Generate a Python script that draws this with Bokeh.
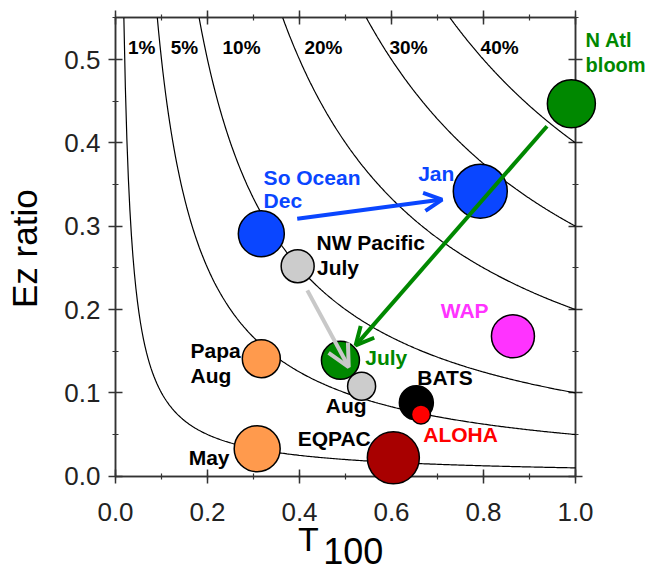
import numpy as np
from bokeh.plotting import figure
from bokeh.models import (Range1d, LinearAxis, SingleIntervalTicker, Label, Arrow, OpenHead,
                          ColumnDataSource)
from bokeh.embed import file_html
from bokeh.resources import INLINE

# ---- data -------------------------------------------------------------
# isolines: Ez ratio * T100 = percent of NPP
pct_values = [1, 5, 10, 20, 30, 40]
pct_labels = ["1%", "5%", "10%", "20%", "30%", "40%"]
pct_label_x = [0.057, 0.150, 0.274, 0.452, 0.637, 0.835]

x_tick_values = [0.0, 0.2, 0.4, 0.6, 0.8, 1.0]
y_tick_values = [0.0, 0.1, 0.2, 0.3, 0.4, 0.5]

site_names = ["N Atl bloom", "So Ocean Jan", "So Ocean Dec", "NW Pacific July",
              "N Atl July", "NW Pacific Aug", "Papa Aug", "Papa May",
              "EQPAC", "BATS", "ALOHA", "WAP"]
t100 = [0.991, 0.793, 0.317, 0.396, 0.489, 0.535, 0.317, 0.308, 0.604, 0.654, 0.664, 0.864]
ez_ratio = [0.447, 0.342, 0.291, 0.252, 0.139, 0.108, 0.141, 0.033, 0.022, 0.088, 0.074, 0.168]
bubble_size = [48, 54, 46, 33, 38, 28, 38, 46, 52, 34, 19, 43]
bubble_color = ["#008800", "#0a46ff", "#0a46ff", "#cccccc", "#008800", "#cccccc",
                "#ff9a4d", "#ff9a4d", "#a80000", "#000000", "#ff0000", "#ff33ff"]

# arrows (start -> end)
arrow_x0 = [0.395, 0.938, 0.417]
arrow_y0 = [0.309, 0.420, 0.223]
arrow_x1 = [0.710, 0.522, 0.507]
arrow_y1 = [0.332, 0.157, 0.131]
arrow_color = ["#0a46ff", "#008800", "#c8c8c8"]
arrow_head = [18, 18, 22]

# site text labels
label_text = ["So Ocean", "Dec", "Jan", "NW Pacific", "July", "Papa", "Aug", "May",
              "EQPAC", "Aug", "July", "BATS", "ALOHA", "WAP", "N Atl", "bloom"]
label_x = [0.322, 0.322, 0.658, 0.437, 0.438, 0.163, 0.163, 0.159,
           0.396, 0.457, 0.543, 0.656, 0.669, 0.707, 1.022, 1.022]
label_y = [0.359, 0.331, 0.363, 0.281, 0.251, 0.151, 0.121, 0.022,
           0.045, 0.085, 0.143, 0.119, 0.050, 0.199, 0.523, 0.493]
label_color = ["#0a46ff", "#0a46ff", "#0a46ff", "#000000", "#000000", "#000000", "#000000",
               "#000000", "#000000", "#000000", "#008800", "#000000", "#ff0000", "#ff33ff",
               "#008800", "#008800"]
label_size = ["21px"] * 14 + ["20px", "20px"]

FONT = "Liberation Sans"
AX = "#333333"

# pixel geometry of the data area inside the 649x571 canvas
W, H = 649, 571
BL, BR, BT, BB = 3, 3, 3, 0
X0PX, XPPU = 115.0, 460.0       # x=0 position, pixels per unit
Y0PX, YPPU = 475.7, 833.3       # y=0 position, pixels per unit
x_rng = Range1d((BL - X0PX) / XPPU, (W - BR - X0PX) / XPPU)
y_rng = Range1d(-(H - BB - Y0PX) / YPPU, (Y0PX - BT) / YPPU)

# the frame spans the whole canvas, so bubbles and texts outside the axes are not clipped
p = figure(width=W, height=H, output_backend="svg", toolbar_location=None,
           x_range=x_rng, y_range=y_rng,
           min_border_left=BL, min_border_right=BR, min_border_top=BT, min_border_bottom=BB,
           x_axis_location=None, y_axis_location=None)
p.grid.visible = False
p.outline_line_color = None
p.background_fill_color = "white"
p.border_fill_color = "white"


def frame_axis(side, loc, interval, bounds):
    ax = LinearAxis(ticker=SingleIntervalTicker(interval=interval, num_minor_ticks=2),
                    bounds=bounds, fixed_location=loc, level="underlay")
    ax.axis_line_color = AX
    ax.axis_line_width = 1.5
    ax.major_tick_line_color = AX
    ax.major_tick_line_width = 1.5
    ax.minor_tick_line_color = AX
    ax.minor_tick_line_width = 1.2
    ax.major_tick_in = 7
    ax.major_tick_out = 0
    ax.minor_tick_in = 3
    ax.minor_tick_out = 0
    ax.major_label_text_font_size = "0px"
    ax.major_label_text_color = None
    ax.major_label_standoff = 0
    p.add_layout(ax, side)


# box axes: each edge drawn by a pair of axes so the ticks cross the line
for loc in (0.0, 1.0):
    frame_axis("left", loc, 0.1, (0, 0.55))
    frame_axis("right", loc, 0.1, (0, 0.55))
for loc in (0.0, 0.55):
    frame_axis("below", loc, 0.2, (0, 1.0))
    frame_axis("above", loc, 0.2, (0, 1.0))

# tick labels
for v in x_tick_values:
    p.add_layout(Label(x=v, y=-0.0435, text=f"{v:.1f}", text_align="center",
                       text_baseline="middle", text_font=FONT, text_font_size="26px",
                       text_color="#222222"))
for v in y_tick_values:
    p.add_layout(Label(x=-0.0326, y=v, text=f"{v:.1f}", text_align="right",
                       text_baseline="middle", text_font=FONT, text_font_size="26px",
                       text_color="#222222"))

# axis titles
p.add_layout(Label(x=-0.1978, y=0.273, text="Ez ratio", angle=np.pi / 2, text_align="center",
                   text_baseline="middle", text_font=FONT, text_font_size="35px",
                   text_color="black"))
p.add_layout(Label(x=0.397, y=-0.0755, text="T", text_align="left", text_baseline="middle",
                   text_font=FONT, text_font_size="34px", text_color="black"))
p.add_layout(Label(x=0.4515, y=-0.0895, text="100", text_align="left", text_baseline="middle",
                   text_font=FONT, text_font_size="36px", text_color="black"))

# isolines
for c in pct_values:
    k = c / 100.0
    xs = np.linspace(k / 0.55, 1.0, 300)
    p.line(xs, k / xs, line_color="black", line_width=1.2)

for txt, x in zip(pct_labels, pct_label_x):
    p.add_layout(Label(x=x, y=0.515, text=txt, text_align="center", text_baseline="middle",
                       text_font=FONT, text_font_style="bold", text_font_size="19px",
                       text_color="black"))

src = ColumnDataSource(dict(x=t100, y=ez_ratio, s=bubble_size, c=bubble_color))
p.scatter("x", "y", size="s", fill_color="c", line_color="black", line_width=1.5, source=src)

for x0, y0, x1, y1, col, hs in zip(arrow_x0, arrow_y0, arrow_x1, arrow_y1, arrow_color, arrow_head):
    p.add_layout(Arrow(x_start=x0, y_start=y0, x_end=x1, y_end=y1, line_color=col, line_width=4,
                       end=OpenHead(size=hs, line_color=col, line_width=4)))

for txt, x, y, col, fs in zip(label_text, label_x, label_y, label_color, label_size):
    p.add_layout(Label(x=x, y=y, text=txt, text_align="left", text_baseline="middle",
                       text_font=FONT, text_font_style="bold", text_font_size=fs,
                       text_color=col))

open("out.html", "w").write(file_html(p, INLINE))
